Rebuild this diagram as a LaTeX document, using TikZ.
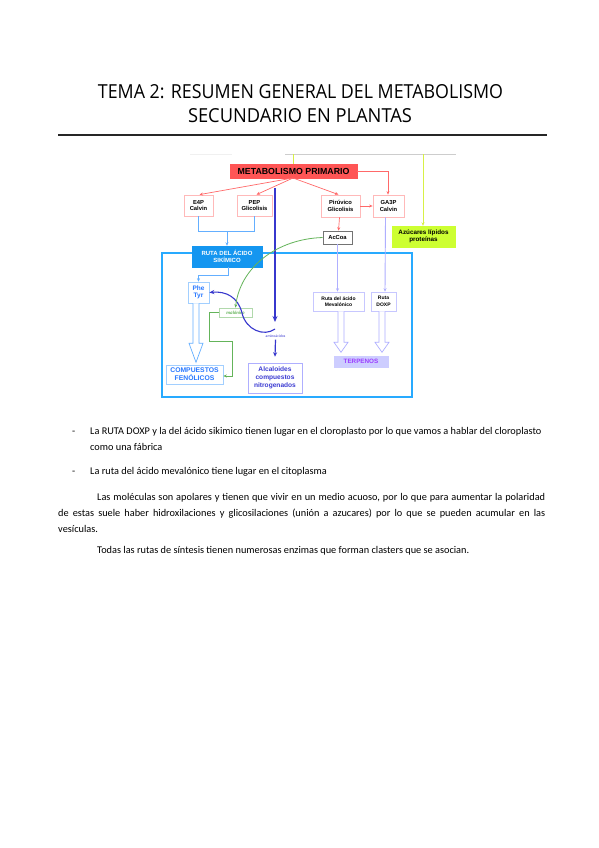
\documentclass[tikz,border=0pt]{standalone}
\usepackage{fontspec}
\setmainfont{Carlito}
\newfontfamily\arialf{Liberation Sans}
\newfontfamily\titlef{Open Sans}
\usetikzlibrary{arrows.meta,calc}
\definecolor{metafill}{RGB}{255,85,85}
\definecolor{redln}{RGB}{255,105,105}
\definecolor{pinkbd}{RGB}{255,185,185}
\definecolor{ltblue}{RGB}{100,175,255}
\definecolor{sikfill}{RGB}{20,150,240}
\definecolor{chlbd}{RGB}{40,170,255}
\definecolor{dkblue}{RGB}{55,55,205}
\definecolor{grn}{RGB}{100,180,90}
\definecolor{purln}{RGB}{175,175,255}
\definecolor{terpfill}{RGB}{205,205,255}
\definecolor{terptxt}{RGB}{155,60,255}
\definecolor{ygfill}{RGB}{205,255,50}
\definecolor{ygln}{RGB}{215,240,70}
\definecolor{grayln}{RGB}{205,205,205}
\definecolor{txtblue}{RGB}{40,120,255}
\definecolor{alctxt}{RGB}{60,60,210}
\begin{document}
\begin{tikzpicture}[x=1pt,y=-1pt,
  tiny/.style={font=\arialf\bfseries\fontsize{5.8}{6.6}\selectfont},
  box/.style={draw, inner sep=0pt, align=center, tiny, text=black},
  redbox/.style={box, draw=pinkbd, line width=0.8pt, fill=white},
  redar/.style={draw=redln, line width=0.7pt, -{Stealth[length=3.5pt,width=3pt]}},
  bluear/.style={draw=ltblue, line width=0.9pt, -{Stealth[length=3.5pt,width=3pt]}},
  purar/.style={draw=purln, line width=0.9pt, -{Stealth[length=3.5pt,width=3pt]}},
  grnln/.style={draw=grn, line width=0.8pt},
  hollow/.style={line width=0.7pt, fill=white},
  bodytxt/.style={anchor=base west, inner sep=0pt, font=\fontsize{10.3}{12}\selectfont}
]
\useasboundingbox (0,0) rectangle (599,848);
\fill[white] (0,0) rectangle (599,848);

% title
\node[inner sep=0pt] (t1) at (300.5,92) {\resizebox{405pt}{14pt}{\titlef TEMA 2: RESUMEN GENERAL DEL METABOLISMO}};
\node[inner sep=0pt] (t2) at (300,116) {\resizebox{224pt}{14pt}{\titlef SECUNDARIO EN PLANTAS}};
\coordinate (r1) at (58,135);
\coordinate (r2) at (547,135);
\draw[line width=1.6pt, black!85] (r1) -- (r2);

% chloroplast
\node[draw=chlbd, line width=1.8pt, minimum width=250, minimum height=144, inner sep=0pt] (chl) at (287,325) {};

% top lines
\coordinate (g1) at (285,154);
\coordinate (g2) at (456,154);
\coordinate (g3) at (190,154);
\coordinate (g4) at (232,154);
\draw[grayln, line width=0.9pt] (g1) -- (g2);
\draw[black!6, line width=0.9pt] (g3) -- (g4);

% boxes
\node[box, draw=metafill, fill=metafill, minimum width=127, minimum height=14,
  font=\arialf\bfseries\fontsize{8.8}{10}\selectfont] (meta) at (293.5,171) {METABOLISMO PRIMARIO};
\node[redbox, minimum width=29, minimum height=21] (e4p) at (198.5,205.5) {E4P\\Calvin};
\node[redbox, minimum width=35, minimum height=21] (pep) at (254.5,205.5) {PEP\\Glicolisis};
\node[redbox, minimum width=39, minimum height=22] (piru) at (340.5,206) {Pirúvico\\Glicolisis};
\node[redbox, minimum width=31, minimum height=22] (ga3p) at (388.5,206) {GA3P\\Calvin};
\node[box, draw=black!55, line width=0.6pt, fill=white, minimum width=29, minimum height=13] (accoa) at (337.5,237.5) {AcCoa};
\node[box, draw=ygfill, fill=ygfill, minimum width=63, minimum height=21,
  font=\arialf\bfseries\fontsize{6.3}{7.4}\selectfont] (azuc) at (423.5,236.5) {Azúcares lípidos\\proteínas};
\node[box, draw=sikfill, fill=sikfill, text=white, minimum width=70, minimum height=21,
  font=\arialf\bfseries\fontsize{6}{7.2}\selectfont] (sik) at (227,256.5) {RUTA DEL ÁCIDO\\SIKÍMICO};
\node[box, draw=ltblue!60, line width=0.6pt, fill=white, text=txtblue, minimum width=21, minimum height=21,
  font=\arialf\bfseries\fontsize{6.5}{7.5}\selectfont] (phe) at (198.5,292.5) {Phe\\Tyr};
\node[box, draw=grn!50, line width=0.6pt, fill=white, text=grn, minimum width=33, minimum height=9,
  font=\rmfamily\bfseries\itshape\fontsize{4.8}{5}\selectfont] (malon) at (235.5,312.5) {malónico};
\node[box, draw=ltblue!60, line width=0.6pt, fill=white, text=txtblue, minimum width=57, minimum height=19,
  font=\arialf\bfseries\fontsize{6.8}{8}\selectfont] (comp) at (194.5,374.5) {COMPUESTOS\\FENÓLICOS};
\node[box, draw=purln, line width=0.6pt, fill=white, text=alctxt, minimum width=54, minimum height=30,
  font=\arialf\bfseries\fontsize{6.6}{8}\selectfont] (alc) at (275,378) {Alcaloides\\compuestos\\nitrogenados};
\node[box, draw=purln!70, line width=0.6pt, fill=white, minimum width=51, minimum height=19,
  font=\arialf\bfseries\fontsize{5}{6.4}\selectfont] (meval) at (338.5,301.5) {Ruta del ácido\\Mevalónico};
\node[box, draw=purln!70, line width=0.6pt, fill=white, minimum width=25, minimum height=19,
  font=\arialf\bfseries\fontsize{5}{6.4}\selectfont] (doxp) at (383.5,301.5) {Ruta\\DOXP};
\node[box, draw=terpfill, fill=terpfill, text=terptxt, minimum width=54, minimum height=11,
  font=\arialf\bfseries\fontsize{6.3}{7}\selectfont] (terp) at (361,361.5) {TERPENOS};
\node[inner sep=0pt, text=alctxt, font=\rmfamily\fontsize{3.8}{4}\selectfont] (amino) at (275.5,336.5) {aminoácidos};

% yellow-green lines
\coordinate (y1) at (293,154);
\coordinate (y2) at (423,154);
\draw[ygln, line width=0.9pt] (y1) -- (meta.north -| y1);
\draw[ygln, line width=0.9pt, -{Stealth[length=3.5pt,width=3pt]}] (y2) -- (azuc.north -| y2);

% red arrows
\coordinate (ms) at (293,178);
\draw[redar] (ms) -- ($(e4p.north)+(1,0)$);
\draw[redar] (ms) -- ($(pep.north)+(2,0)$);
\draw[redar] (ms) -- ($(piru.north)+(-2,0)$);
\coordinate (mc) at (388,171);
\draw[redar] (meta.east) -- (mc) -- (ga3p.north -| mc);
\draw[redar] (piru.east) -- (ga3p.west);
\draw[redar] ($(piru.south)+(-1,0)$) -- ($(accoa.north)+(1,0)$);

% light blue connectors
\coordinate (b1) at (198.5,231);
\coordinate (b2) at (254.5,231);
\coordinate (b3) at (227,231);
\draw[ltblue, line width=0.9pt] (e4p.south) -- (b1) -- (b2) -- (pep.south);
\draw[bluear] (b3) -- (sik.north);
\coordinate (b4) at (228,275);
\coordinate (b5) at (198.5,275);
\draw[bluear] (sik.south -| b4) -- (b4) -- (b5) -- (phe.north);

% dark blue
\coordinate (d1) at (275,188);
\coordinate (d2) at (275,322);
\draw[dkblue, line width=1.6pt, -{Stealth[length=6pt,width=5pt]}] (d1) -- (d2);
\draw[dkblue, line width=1.2pt, -{Stealth[length=4.5pt,width=4pt]}] ([yshift=-1.5pt]amino.south) -- ([yshift=6pt]alc.north);
\coordinate (d3) at (275,329);
\draw[dkblue, line width=1.1pt, -{Stealth[length=5pt,width=4pt]}] (d3) .. controls (264,337) and (246,330) .. (242,313) .. controls (238,297) and (226,291) .. (phe.east);

% green
\draw[grnln, -{Stealth[length=3.5pt,width=3pt]}] (accoa.west) .. controls (276,239) and (240,268) .. (malon.north);
\coordinate (n1) at (209,312.5);
\coordinate (n2) at (209,341);
\coordinate (n3) at (232,341);
\coordinate (n4) at (232,376);
\draw[grnln, -{Stealth[length=3.5pt,width=3pt]}] (malon.west) -- (n1) -- (n2) -- (n3) -- (n4) -- (comp.east |- n4);

% purple
\draw[purar] (accoa.south) -- (meval.north -| accoa.south);
\draw[purar] ($(ga3p.south)+(-3,0)$) -- ($(doxp.north)+(1.5,0)$);

% hollow arrows
\draw[ltblue, hollow] ($(phe.south)+(-5.5,0)$) -- ++(0,40) -- ++(-4,0) -- ++(7,19) -- ++(7,-19) -- ++(-4,0) -- ++(0,-40);
\draw[purln, hollow] ($(meval.south)+(-0.5,0)$) -- ++(0,31) -- ++(-4,0) -- ++(7,10) -- ++(7,-10) -- ++(-4,0) -- ++(0,-31);
\draw[purln, hollow] ($(doxp.south)+(-4.5,0)$) -- ++(0,31) -- ++(-4,0) -- ++(7,10) -- ++(7,-10) -- ++(-4,0) -- ++(0,-31);

% body text
\node[bodytxt] (m1) at (72,434) {-};
\node[bodytxt] (l1) at (90,434) {La RUTA DOXP y la del ácido sikimico tienen lugar en el cloroplasto por lo que vamos a hablar del cloroplasto};
\node[bodytxt] (l2) at (90,450) {como una fábrica};
\node[bodytxt] (m2) at (72,474) {-};
\node[bodytxt] (l3) at (90,474) {La ruta del ácido mevalónico tiene lugar en el citoplasma};
\node[bodytxt] (p1) at (97,500) {\makebox[448pt][s]{Las moléculas son apolares y tienen que vivir en un medio acuoso, por lo que para aumentar la polaridad}};
\node[bodytxt] (p2) at (58,516) {\makebox[487pt][s]{de estas suele haber hidroxilaciones y glicosilaciones (unión a azucares) por lo que se pueden acumular en las}};
\node[bodytxt] (p3) at (58,532) {vesículas.};
\node[bodytxt] (p4) at (97,553) {Todas las rutas de síntesis tienen numerosas enzimas que forman clasters que se asocian.};
\end{tikzpicture}
\end{document}
